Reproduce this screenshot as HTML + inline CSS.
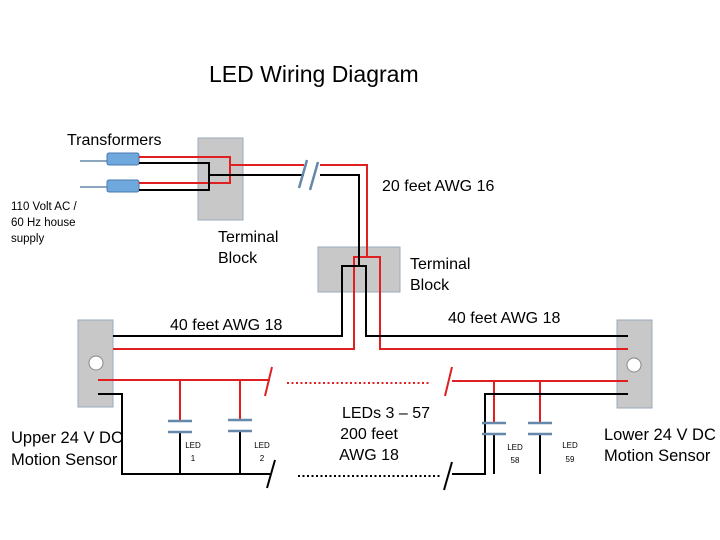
<!DOCTYPE html>
<html><head><style>body{margin:0;background:#fff}svg{display:block}text{font-family:"Liberation Sans",sans-serif;fill:#000}</style></head><body>
<svg width="720" height="540" viewBox="0 0 720 540" xmlns="http://www.w3.org/2000/svg">
<text x="209" y="82" font-size="23">LED Wiring Diagram</text>
<text x="67" y="145" font-size="16">Transformers</text>
<text x="11" y="210" font-size="11.5">110 Volt AC /</text>
<text x="11" y="226" font-size="11.5">60 Hz house</text>
<text x="11" y="242" font-size="11.5">supply</text>
<text x="218" y="242" font-size="16">Terminal</text>
<text x="218" y="263" font-size="16">Block</text>
<text x="410" y="269" font-size="16">Terminal</text>
<text x="410" y="290" font-size="16">Block</text>
<text x="382" y="191" font-size="16">20 feet AWG 16</text>
<text x="170" y="330" font-size="16">40 feet AWG 18</text>
<text x="448" y="323" font-size="16">40 feet AWG 18</text>
<text x="386" y="418" font-size="16" text-anchor="middle">LEDs 3 – 57</text>
<text x="369" y="439" font-size="16" text-anchor="middle">200 feet</text>
<text x="369" y="460" font-size="16" text-anchor="middle">AWG 18</text>
<text x="11" y="443" font-size="16.5">Upper 24 V DC</text>
<text x="11" y="465" font-size="16.5">Motion Sensor</text>
<text x="604" y="440" font-size="16.5">Lower 24 V DC</text>
<text x="604" y="461" font-size="16.5">Motion Sensor</text>
<g font-size="8" text-anchor="middle"><text x="193" y="448">LED</text><text x="193" y="461">1</text><text x="262" y="448">LED</text><text x="262" y="461">2</text><text x="515" y="450">LED</text><text x="515" y="463">58</text><text x="570" y="448">LED</text><text x="570" y="462">59</text></g>
<g fill="#c8c8c8" stroke="#9aaabb"><rect x="198" y="138" width="45" height="82"/><rect x="318" y="247" width="82" height="45"/><rect x="78" y="320" width="35" height="87"/><rect x="617" y="320" width="35" height="88"/></g>
<circle cx="96" cy="363" r="7" fill="#fff" stroke="#888"/><circle cx="634" cy="365" r="7" fill="#fff" stroke="#888"/>
<g stroke="#6688aa" stroke-width="1.5"><line x1="80" y1="161" x2="107" y2="161"/><line x1="80" y1="187" x2="107" y2="187"/></g>
<g fill="#6fa8dc" stroke="#4a7ab0"><rect x="107" y="153" width="32" height="12" rx="2"/><rect x="107" y="180" width="32" height="12" rx="2"/></g>
<g fill="none" stroke="#e02020" stroke-width="2">
<polyline points="139,157 230,157 230,183 139,183"/>
<polyline points="230,165 304,165"/>
<polyline points="320,165 367,165 367,257 380,257 380,349 628,349"/>
<polyline points="367,257 354,257 354,349 113,349"/>
<polyline points="98,380 270,380"/><polyline points="452,381 628,381"/>
<line x1="180" y1="380" x2="180" y2="420"/><line x1="240" y1="380" x2="240" y2="420"/><line x1="494" y1="381" x2="494" y2="422"/><line x1="540" y1="381" x2="540" y2="422"/>
<line x1="287" y1="383" x2="430" y2="383" stroke-dasharray="2,2.5"/>
<line x1="272" y1="367" x2="265" y2="396"/><line x1="452" y1="367" x2="445" y2="396"/>
</g>
<g fill="none" stroke="#000" stroke-width="2">
<polyline points="139,163 209,163 209,190 139,190"/>
<polyline points="209,175 304,175"/>
<polyline points="320,175 359,175 359,266 366,266 366,336 628,336"/>
<polyline points="359,266 342,266 342,336 113,336"/>
<polyline points="98,394 122,394 122,474 270,474"/>
<polyline points="452,474 485,474 485,394 628,394"/>
<line x1="180" y1="432" x2="180" y2="474"/><line x1="240" y1="432" x2="240" y2="474"/><line x1="494" y1="434" x2="494" y2="474"/><line x1="540" y1="434" x2="540" y2="474"/>
<line x1="298" y1="476" x2="440" y2="476" stroke-dasharray="2,2.5"/>
<line x1="275" y1="460" x2="267" y2="488"/><line x1="452" y1="462" x2="444" y2="490"/>
</g>
<g stroke="#6688aa" stroke-width="2.5"><line x1="168" y1="421" x2="192" y2="421"/><line x1="168" y1="432" x2="192" y2="432"/><line x1="228" y1="420" x2="252" y2="420"/><line x1="228" y1="431" x2="252" y2="431"/><line x1="482" y1="423" x2="506" y2="423"/><line x1="482" y1="434" x2="506" y2="434"/><line x1="528" y1="423" x2="552" y2="423"/><line x1="528" y1="434" x2="552" y2="434"/>
<line x1="299" y1="188" x2="307" y2="160"/><line x1="310" y1="190" x2="318" y2="162"/></g>
</svg>
</body></html>
